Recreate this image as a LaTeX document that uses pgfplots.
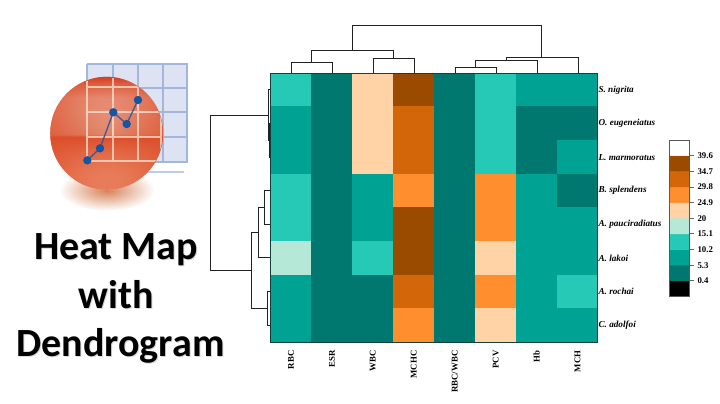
\documentclass[border=0pt]{standalone}
\usepackage{pgfplots}
\usepackage{fontspec}
\usetikzlibrary{fadings}
\pgfplotsset{compat=1.18}
\setmainfont{Liberation Serif}
\newfontfamily\titlefont{Carlito}
\definecolor{gridblue}{HTML}{A3B6DC}
\definecolor{cellblue}{HTML}{DDE3F2}
\definecolor{dend}{HTML}{222222}
\definecolor{sa}{RGB}{250,205,178}
\definecolor{sb}{RGB}{236,140,106}
\definecolor{sc}{RGB}{221,78,42}
\definecolor{sd}{RGB}{226,134,106}
\definecolor{se}{RGB}{236,178,160}
\definecolor{sf}{RGB}{222,120,95}
\definecolor{sg}{RGB}{195,35,30}
\definecolor{shadowc}{RGB}{214,130,88}
\definecolor{iconline}{RGB}{62,88,148}
\definecolor{iconmark}{RGB}{20,86,166}
\definecolor{hmborder}{RGB}{18,63,60}
\tikzfading[name=rim,inner color=transparent!100,outer color=transparent!35]
\pgfdeclareverticalshading{sph}{100bp}{
 color(0bp)=(sa);
 color(25bp)=(sa);
 color(36bp)=(sb);
 color(48.5bp)=(sc);
 color(49.5bp)=(sd);
 color(66bp)=(se);
 color(72bp)=(sf);
 color(75bp)=(sg);
 color(100bp)=(sg)}
\pgfplotsset{
 hmcolors/.style={
  colormap={hm}{
   rgb255(0)=(0,0,0) rgb255(9)=(0,0,0)
   rgb255(10)=(0,119,111) rgb255(19)=(0,119,111)
   rgb255(20)=(0,163,147) rgb255(29)=(0,163,147)
   rgb255(30)=(38,201,181) rgb255(39)=(38,201,181)
   rgb255(40)=(181,232,215) rgb255(49)=(181,232,215)
   rgb255(50)=(255,211,166) rgb255(59)=(255,211,166)
   rgb255(60)=(255,143,46) rgb255(69)=(255,143,46)
   rgb255(70)=(212,102,10) rgb255(79)=(212,102,10)
   rgb255(80)=(154,75,0) rgb255(89)=(154,75,0)
   rgb255(90)=(255,255,255) rgb255(100)=(255,255,255)},
  point meta min=-4.5, point meta max=44.5},
 scale only axis,
 /pgf/number format/assume math mode=true,
}
\newcommand\titleline[3]{%
 \node[anchor=base,font=\titlefont\bfseries\fontsize{40}{40}\selectfont,text=black!15] at (axis cs:#1+1,#2+1) {#3};
 \node[anchor=base,font=\titlefont\bfseries\fontsize{40}{40}\selectfont,text=black] at (axis cs:#1,#2) {#3};}
\begin{document}
\begin{tikzpicture}[x=1pt,y=1pt]
\path[use as bounding box] (0,0) rectangle (720,404);
% page-sized axis: icon and dendrograms, in pixels
\begin{axis}[at={(0pt,0pt)},anchor=south west,width=720pt,height=404pt,
  xmin=0,xmax=720,ymin=0,ymax=404,y dir=reverse,hide axis,clip=false]
 % icon: table behind the sphere
 \fill[cellblue] (axis cs:87,64) rectangle (axis cs:187,162);
 \addplot[gridblue,line width=1.8pt] coordinates {(87,64)(187,64)(187,162)(87,162)(87,64)};
 \addplot[gridblue,line width=1.8pt] coordinates {(113,64)(113,162)};
 \addplot[gridblue,line width=1.8pt] coordinates {(138,64)(138,162)};
 \addplot[gridblue,line width=1.8pt] coordinates {(163,64)(163,162)};
 \addplot[gridblue,line width=1.8pt] coordinates {(87,88)(187,88)};
 \addplot[gridblue,line width=1.8pt] coordinates {(87,112)(187,112)};
 \addplot[gridblue,line width=1.8pt] coordinates {(87,137)(187,137)};
 \addplot[gridblue!70,line width=2.5pt] coordinates {(143,172)(184,172)};
 % sphere shadow
 \shade[inner color=shadowc,outer color=white] (axis cs:107,190) ellipse [x radius=48,y radius=21];
 % sphere
 \shade[shading=sph] (axis cs:106.7,133.3) circle [radius=56.5];
 \fill[sc,path fading=rim] (axis cs:106.7,133.3) circle [radius=56.5];
 \begin{scope}
  \clip (axis cs:106.7,133.3) circle [radius=56];
  \draw[white!85!orange,opacity=.7,line width=1.5pt]
    (axis cs:87,80)--(axis cs:87,162) (axis cs:113,78)--(axis cs:113,162)
    (axis cs:138,84)--(axis cs:138,162) (axis cs:161,100)--(axis cs:161,160)
    (axis cs:87,87)--(axis cs:160,87) (axis cs:87,112)--(axis cs:160,112)
    (axis cs:87,137)--(axis cs:163,137) (axis cs:87,161)--(axis cs:160,161);
 \end{scope}
 \addplot[color=iconline,line width=1.3pt,mark=*,mark size=3.5pt,
   mark options={fill=iconmark,draw=iconmark}]
   coordinates {(87.3,160.3)(100,148.3)(113.3,112.3)(126.7,124)(138,100)};
 % column dendrogram
 \addplot[dend,line width=1pt] coordinates {(291,73)(291,62.7)(332,62.7)(332,73)};
 \addplot[dend,line width=1pt] coordinates {(373,73)(373,59)(414,59)(414,73)};
 \addplot[dend,line width=1pt] coordinates {(311.5,62.7)(311.5,50.7)(393.5,50.7)(393.5,59)};
 \addplot[dend,line width=1pt] coordinates {(455,73)(455,67.3)(496,67.3)(496,73)};
 \addplot[dend,line width=1pt] coordinates {(475.5,67.3)(475.5,61)(537,61)(537,73)};
 \addplot[dend,line width=1pt] coordinates {(506,61)(506,57.3)(578,57.3)(578,73)};
 \addplot[dend,line width=1pt] coordinates {(352.5,50.7)(352.5,25.3)(541.7,25.3)(541.7,57.3)};
 % row dendrogram
 \addplot[dend,line width=1pt] coordinates {(270,123.4)(269,123.4)(269,157)(270,157)};
 \addplot[dend,line width=1pt] coordinates {(270,89.8)(268,89.8)(268,140)(269,140)};
 \addplot[dend,line width=1pt] coordinates {(270,190.6)(264.3,190.6)(264.3,224.2)(270,224.2)};
 \addplot[dend,line width=1pt] coordinates {(264.3,207.4)(258,207.4)(258,257.8)(270,257.8)};
 \addplot[dend,line width=1pt] coordinates {(270,291.4)(267.3,291.4)(267.3,325)(270,325)};
 \addplot[dend,line width=1pt] coordinates {(258,232.6)(251,232.6)(251,308)(267.3,308)};
 \addplot[dend,line width=1pt] coordinates {(268,115)(210,115)(210,270.6)(251,270.6)};
 % title
 \titleline{116}{259}{Heat Map}
 \titleline{116}{308}{with}
 \titleline{120.5}{356}{Dendrogram}
\end{axis}
% heat map
\begin{axis}[hmcolors,at={(270.5pt,62pt)},anchor=south west,width=327.5pt,height=269pt,
  xmin=-0.5,xmax=7.5,ymin=-0.5,ymax=7.5,y dir=reverse,
  axis line style={color=hmborder,line width=1pt},
  axis on top,
  tick style={draw=none},major tick length=0pt,
  xtick={0,...,7},ytick={0,...,7},
  xticklabels={RBC,ESR,WBC,MCHC,RBC/WBC,PCV,Hb,MCH},
  yticklabels={S. nigrita,O. eugeneiatus,L. marmoratus,B. splendens,A. pauciradiatus,A. lakoi,A. rochai,C. adolfoi},
  yticklabel pos=right,
  x tick label style={rotate=90,anchor=east,font=\bfseries\fontsize{8.8}{10}\selectfont,yshift=0pt},
  y tick label style={font=\bfseries\itshape\fontsize{9.2}{10}\selectfont},
  xticklabel shift=5pt,yticklabel shift=-3pt]
 \addplot[matrix plot*,mesh/cols=8,point meta=explicit] table[meta=z] {
x y z
0 0 12
1 0 3
2 0 22
3 0 37
4 0 3
5 0 12
6 0 8
7 0 8
0 1 8
1 1 3
2 1 22
3 1 32
4 1 3
5 1 12
6 1 3
7 1 3
0 2 8
1 2 3
2 2 22
3 2 32
4 2 3
5 2 12
6 2 3
7 2 8
0 3 12
1 3 3
2 3 8
3 3 27
4 3 3
5 3 27
6 3 8
7 3 3
0 4 12
1 4 3
2 4 8
3 4 37
4 4 3
5 4 27
6 4 8
7 4 8
0 5 17
1 5 3
2 5 12
3 5 37
4 5 3
5 5 22
6 5 8
7 5 8
0 6 8
1 6 3
2 6 3
3 6 32
4 6 3
5 6 27
6 6 8
7 6 12
0 7 8
1 7 3
2 7 3
3 7 27
4 7 3
5 7 22
6 7 8
7 7 8
};
\end{axis}
% colour key
\begin{axis}[hmcolors,at={(669pt,107.5pt)},anchor=south west,width=20pt,height=156.5pt,
  xmin=-0.5,xmax=1.5,ymin=-4.5,ymax=44.5,
  axis line style={color=black!65,line width=0.8pt},axis on top,
  xtick=\empty,
  ytick={0.4,5.3,10.2,15.1,20,24.9,29.8,34.7,39.6},
  yticklabels={0.4,5.3,10.2,15.1,20,24.9,29.8,34.7,39.6},
  yticklabel pos=right,ytick pos=right,
  tick align=outside,major tick length=5pt,
  tick style={color=black!60,line width=0.8pt},
  y tick label style={font=\bfseries\fontsize{8.8}{10}\selectfont}]
 \addplot[matrix plot*,mesh/cols=2,point meta=explicit] table[meta=z] {
x y z
0 -2.05 -2.05
1 -2.05 -2.05
0 2.85 2.85
1 2.85 2.85
0 7.75 7.75
1 7.75 7.75
0 12.65 12.65
1 12.65 12.65
0 17.55 17.55
1 17.55 17.55
0 22.45 22.45
1 22.45 22.45
0 27.35 27.35
1 27.35 27.35
0 32.25 32.25
1 32.25 32.25
0 37.15 37.15
1 37.15 37.15
0 42.05 42.05
1 42.05 42.05
};
\end{axis}
\end{tikzpicture}
\end{document}
